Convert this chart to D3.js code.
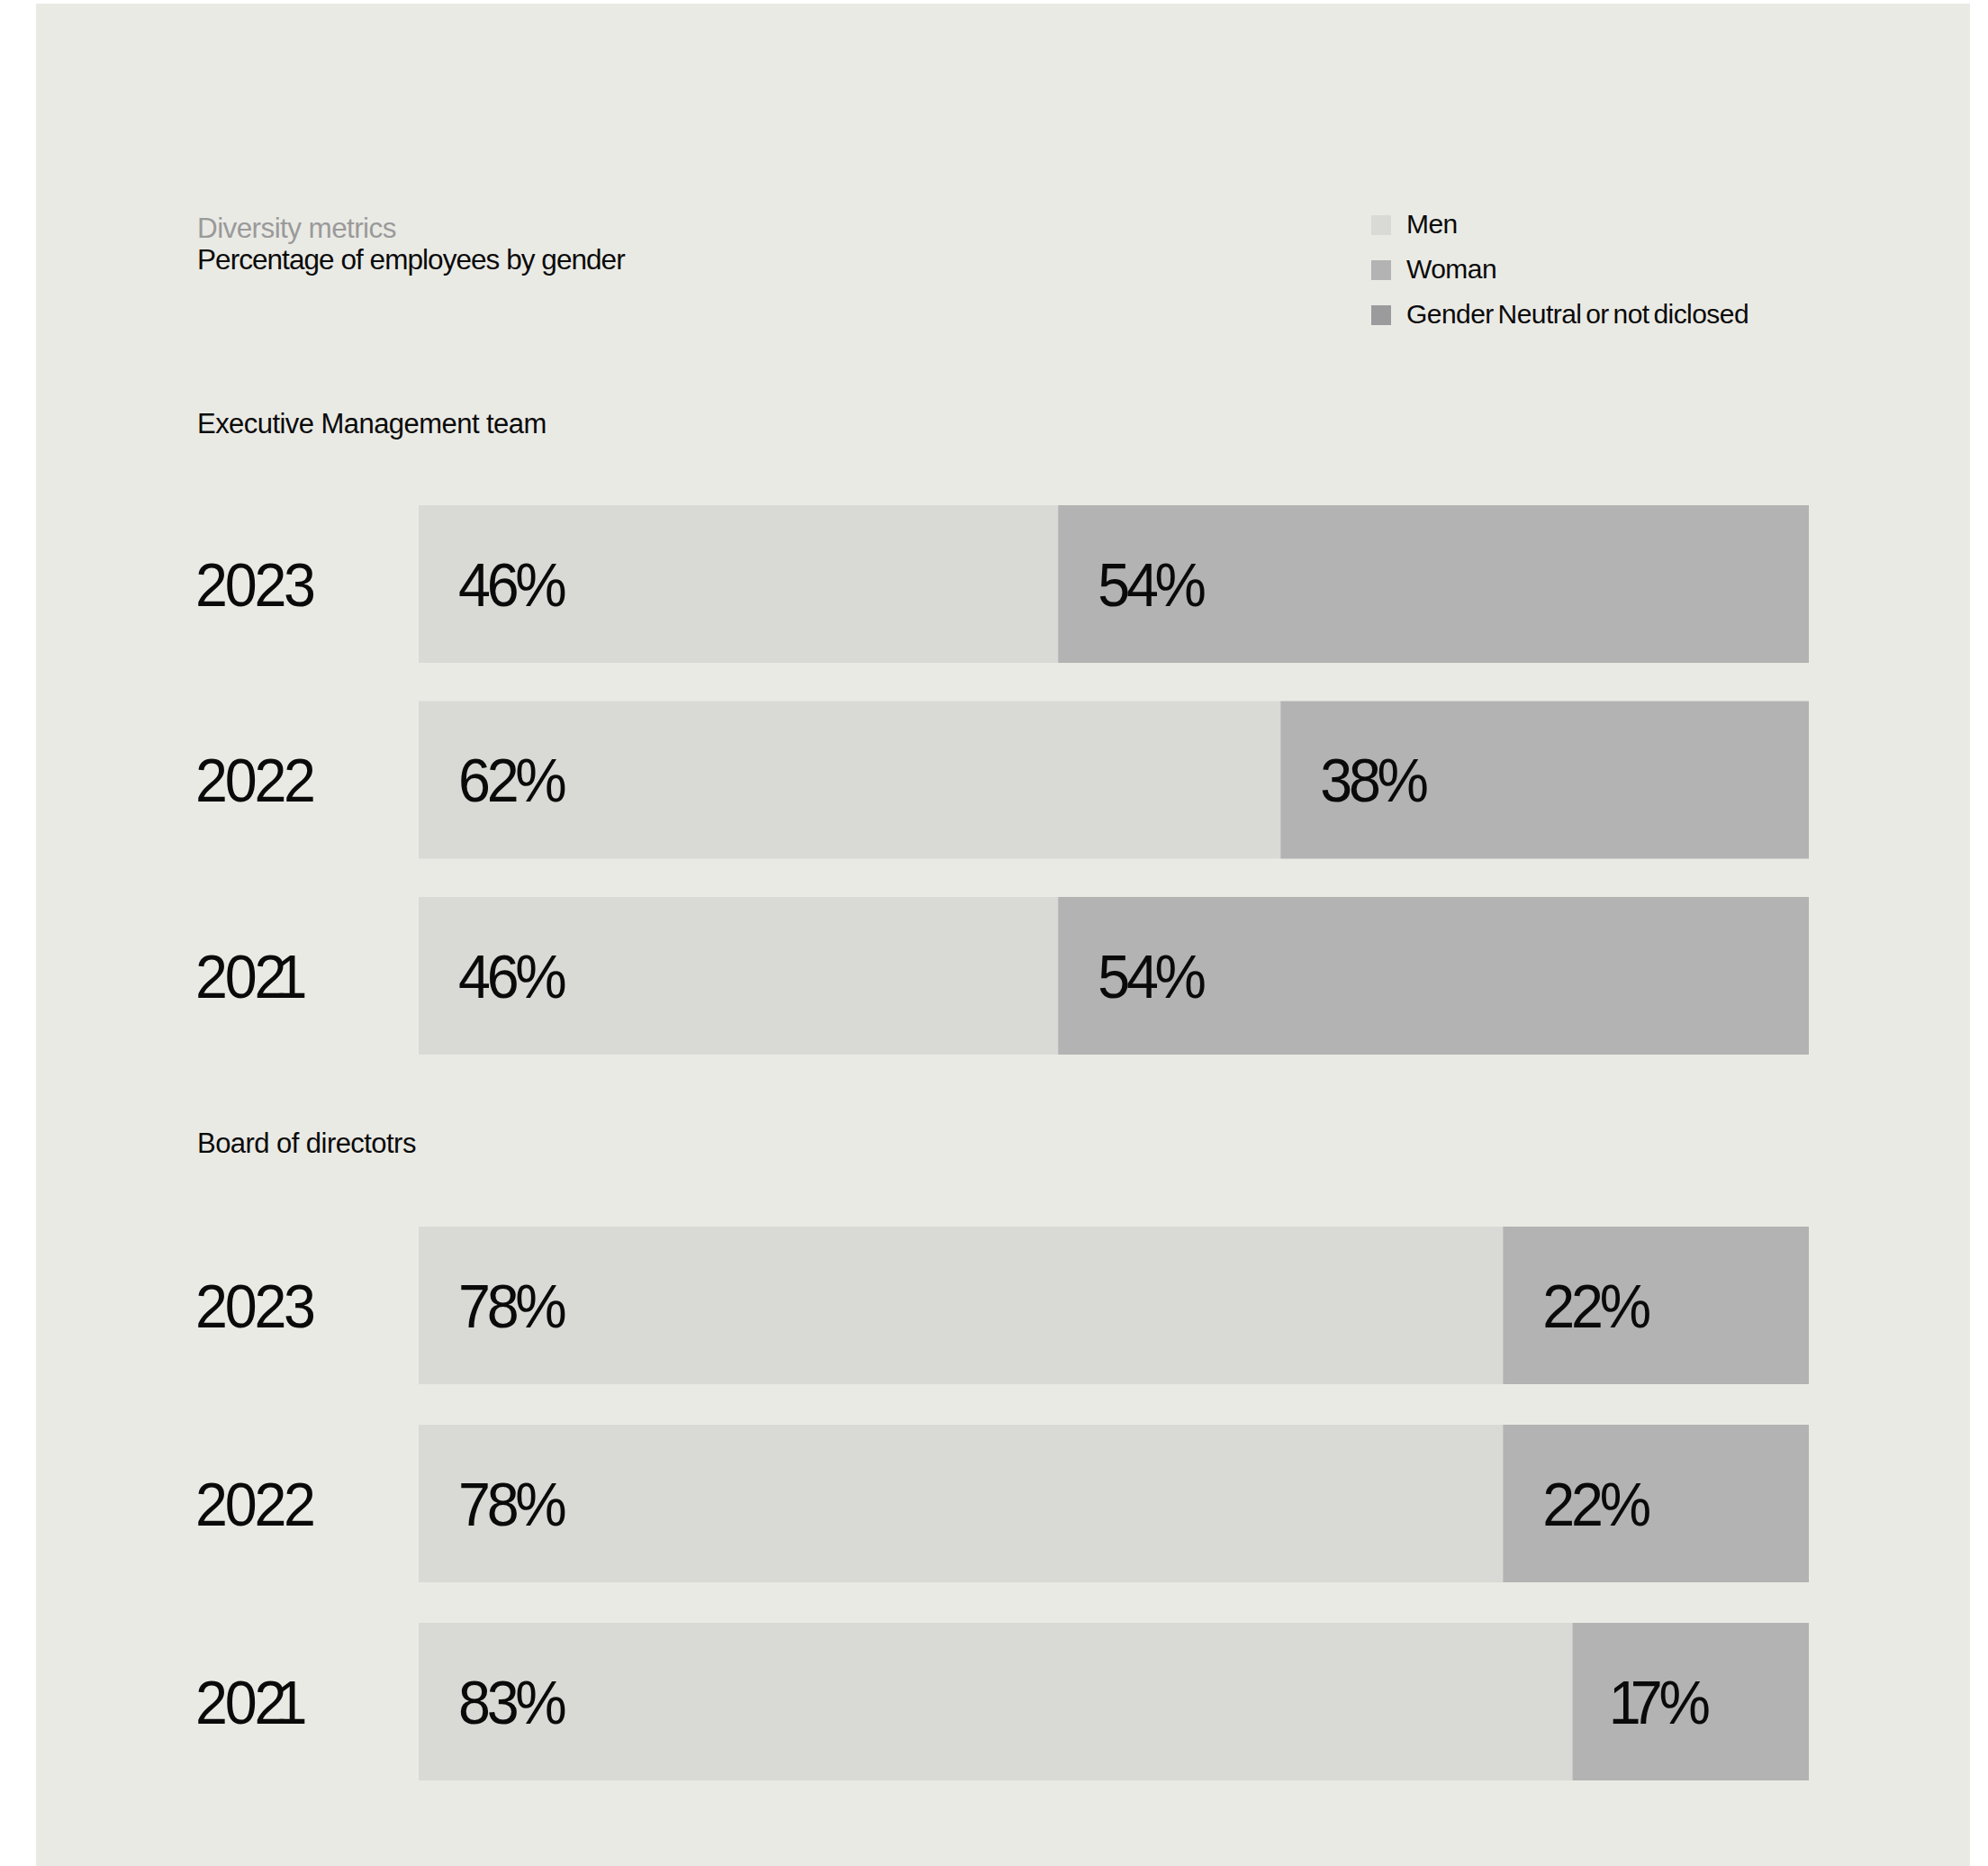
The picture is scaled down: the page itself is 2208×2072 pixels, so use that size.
<!DOCTYPE html>
<html>
<head>
<meta charset="utf-8">
<script src="https://cdn.jsdelivr.net/npm/d3@7"></script>
<style>
  html, body { margin: 0; padding: 0; background: #ffffff; }
  svg { display: block; }
  text { font-family: "Liberation Sans", Arial, Helvetica, sans-serif; fill: #0a0a0a; }
</style>
</head>
<body>
<svg id="chart" width="2208" height="2072"></svg>
<script>
// ---- data ----
const years = ["2023", "2022", "2021"];
const seriesNames = ["Men", "Woman", "Gender Neutral or not diclosed"];
const execMen = [46, 62, 46];
const execWoman = [54, 38, 54];
const execNeutral = [0, 0, 0];
const boardMen = [78, 78, 83];
const boardWoman = [22, 22, 17];
const boardNeutral = [0, 0, 0];
const sectionTitles = ["Executive Management team", "Board of directotrs"];
const kicker = "Diversity metrics";
const title = "Percentage of employees by gender";

// ---- styling ----
const colors = ["#d9dad5", "#b2b3b2", "#9b9b9d"];
const W = 2208, H = 2072;
const BIG = 68;          // size of the year and percentage figures
const CONDENSE = 0.95;   // slight horizontal squeeze for the big figures
const svg = d3.select("#chart");

// Per-glyph offsets so that "1" sits tight, like a proportional figure.
function figureDx(str) {
  const chars = [...str];
  return chars.map((ch, i) => {
    let dx = 0;
    if (ch === "1") dx -= (i === 0 ? 4 : 10);
    if (i > 0 && chars[i - 1] === "1") dx -= 8;
    return dx;
  }).join(" ");
}

// panel background
svg.append("rect")
  .attr("x", 40).attr("y", 4)
  .attr("width", 2148).attr("height", H - 4)
  .attr("fill", "#eaeae5");

// header
svg.append("text")
  .attr("x", 219).attr("y", 264)
  .style("font-size", "31.5px").style("letter-spacing", "-0.6px")
  .style("fill", "#9a9a9a")
  .text(kicker);
svg.append("text")
  .attr("x", 219).attr("y", 299)
  .style("font-size", "31.5px").style("letter-spacing", "-0.95px")
  .text(title);

// legend
const legend = svg.append("g").attr("transform", "translate(1523,239)");
const li = legend.selectAll("g").data(seriesNames).join("g")
  .attr("transform", (d, i) => `translate(0,${i * 50})`);
li.append("rect").attr("width", 22).attr("height", 22)
  .attr("fill", (d, i) => colors[i]);
li.append("text")
  .attr("x", 39).attr("y", 20)
  .style("font-size", "30px").style("letter-spacing", "-0.55px")
  .style("word-spacing", "-3px")
  .text(d => d);

// shared horizontal scale (percent -> pixels)
const x = d3.scaleLinear().domain([0, 100]).range([465, 2009]);

const sections = [
  { title: sectionTitles[0], titleY: 481, men: execMen, woman: execWoman, neutral: execNeutral, range: [561, 1171] },
  { title: sectionTitles[1], titleY: 1280, men: boardMen, woman: boardWoman, neutral: boardNeutral, range: [1362, 1977] }
];

const stack = d3.stack().keys([0, 1, 2]);

sections.forEach(sec => {
  svg.append("text")
    .attr("x", 219).attr("y", sec.titleY)
    .style("font-size", "31px").style("letter-spacing", "-0.55px")
    .text(sec.title);

  const step = (sec.range[1] - sec.range[0] - 175) / 2;
  const y = d3.scaleBand()
    .domain(years)
    .range(sec.range)
    .paddingInner((step - 175) / step)
    .paddingOuter(0);
  const mid = d => y(d) + y.bandwidth() / 2 + 0.355 * BIG;

  const rows = years.map((yr, i) => ({ year: yr, 0: sec.men[i], 1: sec.woman[i], 2: sec.neutral[i] }));
  const stacked = stack(rows);

  const g = svg.append("g");

  // year labels
  g.selectAll("text.year").data(years).join("text")
    .attr("class", "year")
    .attr("transform", d => `translate(217,${mid(d)}) scale(${CONDENSE},1)`)
    .attr("dx", d => figureDx(d))
    .style("font-size", BIG + "px").style("letter-spacing", "-3.4px")
    .text(d => d);

  // stacked segments
  stacked.forEach((layer, k) => {
    const segs = layer.filter(d => d[1] - d[0] > 0);
    const lg = g.append("g");
    lg.selectAll("rect").data(segs).join("rect")
      .attr("x", d => x(d[0]))
      .attr("y", d => y(d.data.year))
      .attr("width", d => x(d[1]) - x(d[0]))
      .attr("height", y.bandwidth())
      .attr("fill", colors[k]);

    lg.selectAll("text").data(segs).join("text")
      .attr("transform", d => `translate(${x(d[0]) + 44},${mid(d.data.year)}) scale(${CONDENSE},1)`)
      .attr("dx", d => figureDx(`${d.data[k]}%`))
      .style("font-size", BIG + "px").style("letter-spacing", "-4.5px")
      .text(d => `${d.data[k]}%`);
  });
});
</script>
</body>
</html>
